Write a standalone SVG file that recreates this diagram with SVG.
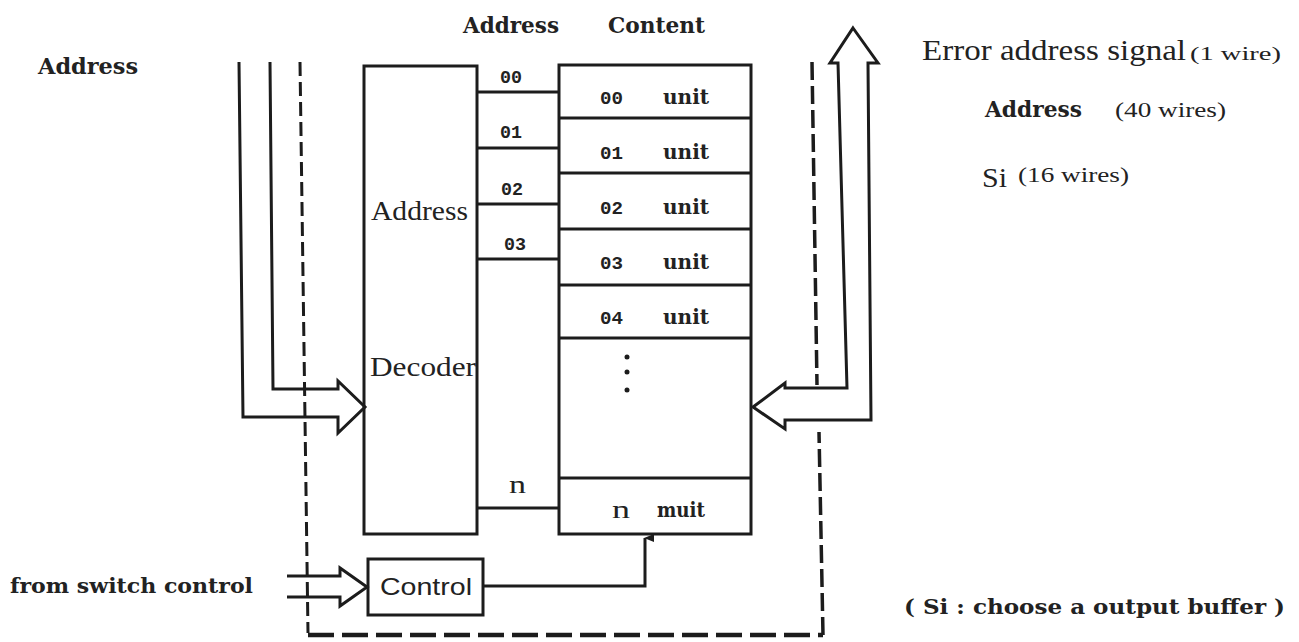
<svg xmlns="http://www.w3.org/2000/svg" width="1299" height="642" viewBox="0 0 1299 642">
<style>
  .bx{fill:none;stroke:#1c1c1c;stroke-width:3}
  .ln{fill:none;stroke:#1c1c1c;stroke-width:3;stroke-linejoin:miter}
  .dl{fill:none;stroke:#1c1c1c;stroke-width:3;stroke-dasharray:14 6}
  .db{fill:none;stroke:#1c1c1c;stroke-width:4.5;stroke-dasharray:26 8}
  .dr{fill:none;stroke:#1c1c1c;stroke-width:3.5;stroke-dasharray:18 6}
  .sb{font-family:"DejaVu Serif","Liberation Serif",serif;font-weight:bold;fill:#222}
  .sr{font-family:"Liberation Serif","Times New Roman",serif;fill:#222}
  .mn{font-family:"Liberation Mono","DejaVu Sans Mono",monospace;font-weight:bold;fill:#222}
  .ss{font-family:"Liberation Sans",Arial,sans-serif;fill:#222}
</style>
<defs>
  <marker id="ah" markerWidth="8" markerHeight="10" refX="4" refY="1" orient="auto-start-reverse" markerUnits="userSpaceOnUse" viewBox="0 0 8 10">
    <path d="M4,0 L8,10 L0,10 Z" fill="#1c1c1c"/>
  </marker>
</defs>
<rect width="1299" height="642" fill="#ffffff"/>

<!-- labels -->
<g id="labels">
  <text class="sb" x="38" y="74" font-size="22" textLength="100" lengthAdjust="spacingAndGlyphs">Address</text>
  <text class="sb" x="463" y="33" font-size="22" textLength="96" lengthAdjust="spacingAndGlyphs">Address</text>
  <text class="sb" x="608" y="33" font-size="22" textLength="97" lengthAdjust="spacingAndGlyphs">Content</text>
  <text class="sr" x="922" y="60" font-size="29" textLength="264" lengthAdjust="spacingAndGlyphs">Error address signal</text>
  <text class="sr" x="1190" y="60" font-size="19" textLength="91" lengthAdjust="spacingAndGlyphs">(1 wire)</text>
  <text class="sb" x="985" y="117" font-size="22" textLength="97" lengthAdjust="spacingAndGlyphs">Address</text>
  <text class="sr" x="1115" y="117" font-size="22" textLength="111" lengthAdjust="spacingAndGlyphs">(40 wires)</text>
  <text class="sr" x="982" y="187" font-size="28" textLength="25" lengthAdjust="spacingAndGlyphs">Si</text>
  <text class="sr" x="1018" y="182" font-size="21" textLength="111" lengthAdjust="spacingAndGlyphs">(16 wires)</text>
  <text class="sb" x="10" y="593" font-size="21" textLength="243" lengthAdjust="spacingAndGlyphs">from switch control</text>
  <text class="sb" x="904" y="614" font-size="21" textLength="381" lengthAdjust="spacingAndGlyphs">( Si :  choose a output buffer )</text>
</g>

<!-- decoder -->
<g id="decoder">
  <rect class="bx" x="364" y="66" width="113" height="468"/>
  <text class="sr" x="371" y="220" font-size="27" textLength="97" lengthAdjust="spacingAndGlyphs">Address</text>
  <text class="sr" x="370" y="376" font-size="27" textLength="106" lengthAdjust="spacingAndGlyphs">Decoder</text>
</g>

<!-- content memory -->
<g id="content">
  <rect class="bx" x="559" y="65" width="192" height="469"/>
  <line class="ln" x1="559" y1="118" x2="751" y2="118"/>
  <line class="ln" x1="559" y1="173" x2="751" y2="173"/>
  <line class="ln" x1="559" y1="229" x2="751" y2="229"/>
  <line class="ln" x1="559" y1="285" x2="751" y2="285"/>
  <line class="ln" x1="559" y1="338" x2="751" y2="338"/>
  <line class="ln" x1="559" y1="478" x2="751" y2="478"/>
  <text class="mn" x="600" y="104" font-size="19" textLength="23" lengthAdjust="spacingAndGlyphs">00</text>
  <text class="sb" x="663" y="104" font-size="21" textLength="46" lengthAdjust="spacingAndGlyphs">unit</text>
  <text class="mn" x="600" y="159" font-size="19" textLength="23" lengthAdjust="spacingAndGlyphs">01</text>
  <text class="sb" x="663" y="159" font-size="21" textLength="46" lengthAdjust="spacingAndGlyphs">unit</text>
  <text class="mn" x="600" y="214" font-size="19" textLength="23" lengthAdjust="spacingAndGlyphs">02</text>
  <text class="sb" x="663" y="214" font-size="21" textLength="46" lengthAdjust="spacingAndGlyphs">unit</text>
  <text class="mn" x="600" y="269" font-size="19" textLength="23" lengthAdjust="spacingAndGlyphs">03</text>
  <text class="sb" x="663" y="269" font-size="21" textLength="46" lengthAdjust="spacingAndGlyphs">unit</text>
  <text class="mn" x="600" y="324" font-size="19" textLength="23" lengthAdjust="spacingAndGlyphs">04</text>
  <text class="sb" x="663" y="324" font-size="21" textLength="46" lengthAdjust="spacingAndGlyphs">unit</text>
  <circle cx="627" cy="357" r="2.5" fill="#1c1c1c"/>
  <circle cx="627" cy="372" r="2.5" fill="#1c1c1c"/>
  <circle cx="627" cy="390" r="2.5" fill="#1c1c1c"/>
  <text class="sr" x="612" y="518" font-size="26" textLength="18" lengthAdjust="spacingAndGlyphs">n</text>
  <text class="sb" x="657" y="517" font-size="21" textLength="48" lengthAdjust="spacingAndGlyphs">muit</text>
</g>

<!-- control -->
<g id="control">
  <rect class="bx" x="368" y="559" width="115" height="56"/>
  <text class="ss" x="380" y="595" font-size="24" textLength="92" lengthAdjust="spacingAndGlyphs">Control</text>
</g>

<!-- connectors -->
<g id="connectors">
  <!-- decoder to content address lines -->
  <line class="ln" x1="477" y1="92" x2="559" y2="92"/>
  <line class="ln" x1="477" y1="148" x2="559" y2="148"/>
  <line class="ln" x1="477" y1="204" x2="559" y2="204"/>
  <line class="ln" x1="477" y1="259" x2="559" y2="259"/>
  <line class="ln" x1="477" y1="508" x2="559" y2="508"/>
  <text class="mn" x="500" y="83" font-size="18" textLength="22" lengthAdjust="spacingAndGlyphs">00</text>
  <text class="mn" x="500" y="138" font-size="18" textLength="22" lengthAdjust="spacingAndGlyphs">01</text>
  <text class="mn" x="501" y="195" font-size="18" textLength="22" lengthAdjust="spacingAndGlyphs">02</text>
  <text class="mn" x="504" y="250" font-size="18" textLength="22" lengthAdjust="spacingAndGlyphs">03</text>
  <text class="sr" x="509" y="493" font-size="26" textLength="17" lengthAdjust="spacingAndGlyphs">n</text>

  <!-- address bus arrow into decoder -->
  <polyline class="ln" points="239,62 243,417 338,417 338,433 365,407 338,381 338,389 273,389 270,62"/>

  <!-- switch control arrow into control -->
  <polyline class="ln" points="287,597 340,597 340,606 367,587 340,568 340,576 287,576"/>

  <!-- control to n unit -->
  <polyline class="ln" points="483,586 645,586 645,538" marker-end="url(#ah)"/>

  <!-- error address / Si bus arrow -->
  <polygon class="ln" points="853,28 878,63 868,63 871,420 785,420 785,429 753,407 785,383 785,388 847,388 838,63 830,63"/>

  <!-- dashed lines -->
  <path class="dl" d="M300,62 L308,633"/>
  <path class="db" d="M308,635 L823,635"/>
  <path class="dr" d="M823,635 L819,432"/>
  <path class="dr" d="M812,62 L817,385"/>
</g>
</svg>
